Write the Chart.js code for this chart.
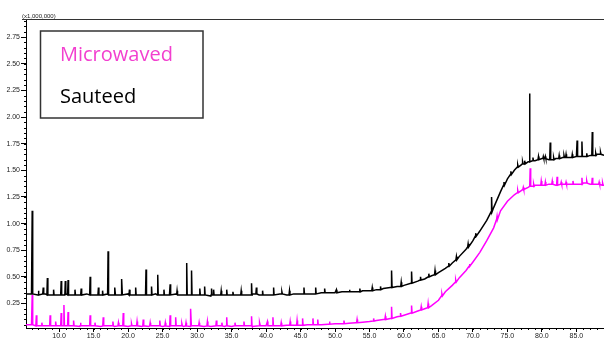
<!DOCTYPE html>
<html>
<head>
<meta charset="utf-8">
<script src="https://cdn.jsdelivr.net/npm/chart.js@4/dist/chart.umd.min.js"></script>
<style>
  html, body { margin: 0; padding: 0; background: #fff; }
</style>
</head>
<body>
<canvas id="chromChart" width="604" height="338"></canvas>
<script>
// Retention time grid (min) for the baseline readings
const times = [5, 6, 7, 8, 9, 10, 11, 12, 13, 14, 15, 16, 17, 18, 19, 20, 21, 22, 23, 24,
  25, 26, 27, 28, 29, 30, 31, 32, 33, 34, 35, 36, 37, 38, 39, 40, 41, 42, 43, 44,
  45, 46, 47, 48, 49, 50, 51, 52, 53, 54, 55, 56, 57, 58, 59, 60, 61, 62, 63, 64,
  65, 66, 67, 68, 69, 70, 71, 72, 73, 74, 75, 76, 77, 78, 79, 80, 81, 82, 83, 84,
  85, 86, 87, 88, 89];

// Baseline intensity (x1,000,000)
const sauteedBase = [0.34, 0.34, 0.33, 0.34, 0.33, 0.33, 0.34, 0.33, 0.33, 0.34, 0.33, 0.33, 0.34, 0.33, 0.33, 0.34, 0.33, 0.33, 0.33, 0.34,
  0.33, 0.33, 0.34, 0.33, 0.33, 0.33, 0.33, 0.32, 0.33, 0.33, 0.33, 0.33, 0.33, 0.34, 0.33, 0.33, 0.33, 0.34, 0.33, 0.34,
  0.34, 0.34, 0.34, 0.35, 0.35, 0.35, 0.36, 0.36, 0.36, 0.37, 0.37, 0.38, 0.39, 0.40, 0.41, 0.42, 0.44, 0.46, 0.48, 0.51,
  0.54, 0.58, 0.63, 0.69, 0.76, 0.84, 0.93, 1.03, 1.15, 1.30, 1.42, 1.50, 1.55, 1.58, 1.59, 1.61, 1.60, 1.61, 1.62, 1.62,
  1.63, 1.63, 1.64, 1.65, 1.64];

const microwavedBase = [0.05, 0.05, 0.04, 0.04, 0.04, 0.04, 0.04, 0.04, 0.035, 0.04, 0.04, 0.035, 0.04, 0.035, 0.04, 0.035, 0.04, 0.035, 0.035, 0.04,
  0.035, 0.035, 0.04, 0.035, 0.035, 0.04, 0.035, 0.035, 0.04, 0.035, 0.035, 0.04, 0.04, 0.035, 0.04, 0.04, 0.04, 0.04, 0.045, 0.045,
  0.045, 0.05, 0.05, 0.05, 0.055, 0.06, 0.06, 0.065, 0.07, 0.075, 0.08, 0.09, 0.10, 0.11, 0.125, 0.14, 0.16, 0.18, 0.20, 0.23,
  0.28, 0.36, 0.42, 0.49, 0.56, 0.64, 0.73, 0.84, 0.96, 1.12, 1.21, 1.27, 1.31, 1.34, 1.36, 1.36, 1.37, 1.36, 1.37, 1.37,
  1.37, 1.38, 1.37, 1.37, 1.36];

// Peaks: [time, local baseline, apex]
const sauteedPeaks = [
  [6.1, 0.34, 1.12], [7.0, 0.33, 0.37], [7.7, 0.34, 0.40], [8.3, 0.33, 0.49], [9.2, 0.33, 0.38],
  [10.3, 0.33, 0.46], [10.9, 0.33, 0.46], [11.3, 0.33, 0.47], [12.3, 0.33, 0.38], [13.2, 0.33, 0.39],
  [14.5, 0.33, 0.50], [15.7, 0.33, 0.40], [16.3, 0.33, 0.37], [17.1, 0.33, 0.74], [18.1, 0.33, 0.40],
  [19.1, 0.33, 0.48], [20.2, 0.33, 0.38], [21.1, 0.33, 0.40], [22.6, 0.33, 0.57], [23.4, 0.33, 0.41],
  [24.3, 0.33, 0.52], [25.2, 0.33, 0.38], [26.1, 0.33, 0.43], [27.1, 0.33, 0.37], [28.5, 0.33, 0.63],
  [29.2, 0.33, 0.56], [30.4, 0.33, 0.39], [31.1, 0.33, 0.41], [32.1, 0.33, 0.39], [32.4, 0.33, 0.38],
  [33.5, 0.33, 0.37], [34.3, 0.33, 0.38], [35.2, 0.33, 0.36], [36.4, 0.33, 0.37], [37.9, 0.33, 0.44],
  [38.6, 0.34, 0.40], [39.5, 0.33, 0.37], [41.1, 0.33, 0.40], [42.3, 0.34, 0.36], [43.4, 0.33, 0.37],
  [45.5, 0.34, 0.40], [47.2, 0.34, 0.40], [48.5, 0.35, 0.39], [50.2, 0.35, 0.38], [52.1, 0.36, 0.38],
  [53.6, 0.36, 0.39], [55.4, 0.37, 0.40], [56.6, 0.38, 0.41], [58.2, 0.40, 0.56], [59.6, 0.41, 0.45],
  [61.1, 0.44, 0.55], [62.4, 0.47, 0.50], [63.6, 0.50, 0.53], [64.5, 0.52, 0.56], [66.5, 0.60, 0.63],
  [67.6, 0.66, 0.69], [69.3, 0.78, 0.81], [70.4, 0.88, 0.91], [72.7, 1.11, 1.25], [74.5, 1.36, 1.39],
  [75.5, 1.46, 1.49], [76.5, 1.53, 1.55], [77.2, 1.56, 1.58], [77.5, 1.56, 1.59], [78.2, 1.58, 2.22],
  [78.7, 1.59, 1.62], [79.5, 1.60, 1.63], [80.2, 1.61, 1.63], [80.5, 1.61, 1.63], [81.2, 1.60, 1.76],
  [81.7, 1.60, 1.62], [82.5, 1.61, 1.64], [83.2, 1.62, 1.64], [83.5, 1.62, 1.65], [84.4, 1.62, 1.65],
  [85.1, 1.63, 1.78], [85.8, 1.63, 1.77], [86.5, 1.63, 1.66], [87.3, 1.64, 1.86], [87.8, 1.64, 1.66],
  [88.5, 1.65, 1.67]
];

const microwavedPeaks = [
  [6.1, 0.05, 0.33], [6.7, 0.04, 0.14], [7.5, 0.04, 0.07], [8.7, 0.04, 0.14], [9.5, 0.04, 0.08],
  [10.3, 0.04, 0.16], [10.7, 0.04, 0.235], [11.3, 0.04, 0.17], [12.1, 0.04, 0.09], [13.1, 0.04, 0.07],
  [14.5, 0.04, 0.14], [15.2, 0.04, 0.07], [16.4, 0.04, 0.12], [17.8, 0.04, 0.08], [18.6, 0.04, 0.07],
  [19.3, 0.04, 0.16], [20.5, 0.04, 0.06], [21.3, 0.04, 0.08], [22.2, 0.04, 0.10], [23.2, 0.04, 0.07],
  [24.6, 0.04, 0.09], [25.4, 0.04, 0.07], [26.1, 0.04, 0.14], [26.9, 0.04, 0.12], [27.8, 0.04, 0.06],
  [28.4, 0.04, 0.07], [29.1, 0.04, 0.20], [30.3, 0.04, 0.07], [31.5, 0.04, 0.08], [32.8, 0.04, 0.09],
  [33.6, 0.04, 0.07], [34.3, 0.04, 0.12], [35.5, 0.04, 0.07], [36.8, 0.04, 0.08], [37.9, 0.04, 0.13],
  [39.1, 0.04, 0.07], [40.2, 0.04, 0.08], [41.0, 0.04, 0.12], [42.2, 0.04, 0.07], [43.5, 0.045, 0.08],
  [44.5, 0.045, 0.09], [45.3, 0.045, 0.11], [46.8, 0.05, 0.11], [47.5, 0.05, 0.10], [49.2, 0.055, 0.08],
  [51.3, 0.06, 0.09], [53.2, 0.07, 0.10], [55.6, 0.085, 0.11], [57.3, 0.10, 0.13], [58.2, 0.11, 0.22],
  [59.5, 0.13, 0.16], [61.1, 0.16, 0.23], [62.5, 0.19, 0.22], [63.5, 0.21, 0.25], [65.5, 0.32, 0.34],
  [67.5, 0.45, 0.47], [69.5, 0.60, 0.62], [73.5, 1.04, 1.07], [76.5, 1.29, 1.31], [77.3, 1.32, 1.34],
  [78.3, 1.35, 1.52], [78.8, 1.35, 1.37], [79.9, 1.36, 1.40], [80.5, 1.36, 1.39], [81.5, 1.37, 1.40],
  [82.2, 1.36, 1.44], [82.8, 1.37, 1.39], [83.5, 1.37, 1.39], [84.5, 1.37, 1.40], [85.8, 1.37, 1.43],
  [86.5, 1.38, 1.40], [87.3, 1.37, 1.43], [88.3, 1.37, 1.39], [88.8, 1.36, 1.38]
];

const xTickValues = [10, 15, 20, 25, 30, 35, 40, 45, 50, 55, 60, 65, 70, 75, 80, 85];
const yTickValues = [0.25, 0.5, 0.75, 1.0, 1.25, 1.5, 1.75, 2.0, 2.25, 2.5, 2.75];

// Merge baseline readings and peaks into one sorted trace
function buildTrace(base, peaks) {
  const pts = times.map((t, i) => ({ x: t, y: base[i] }));
  peaks.forEach(([t, b, top]) => {
    pts.push({ x: t - 0.07, y: b }, { x: t, y: top }, { x: t + 0.07, y: b });
  });
  return pts.sort((a, b) => a.x - b.x);
}

const tickFont = { family: 'Liberation Sans', size: 7 };

// Minor ticks, top frame, unit label and legend box
const decor = {
  id: 'decor',
  afterDraw(chart) {
    const { ctx, chartArea, scales } = chart;
    const x = scales.x, y = scales.y;
    ctx.save();
    ctx.strokeStyle = '#000';
    ctx.lineWidth = 1;
    ctx.beginPath();
    for (let t = Math.ceil(x.min); t <= x.max; t++) {
      const px = Math.round(x.getPixelForValue(t)) + 0.5;
      ctx.moveTo(px, chartArea.bottom);
      ctx.lineTo(px, chartArea.bottom + 2);
    }
    for (let v = 0.05; v <= y.max; v += 0.05) {
      const py = Math.round(y.getPixelForValue(v)) + 0.5;
      ctx.moveTo(chartArea.left, py);
      ctx.lineTo(chartArea.left - 2, py);
    }
    ctx.stroke();

    ctx.strokeStyle = '#333';
    ctx.beginPath();
    ctx.moveTo(22, chartArea.top + 0.5);
    ctx.lineTo(chartArea.right, chartArea.top + 0.5);
    ctx.stroke();

    ctx.fillStyle = '#222';
    ctx.font = '6px "Liberation Sans"';
    ctx.textBaseline = 'alphabetic';
    ctx.fillText('(x1,000,000)', 22, chartArea.top - 1);

    // legend
    ctx.strokeStyle = '#333';
    ctx.lineWidth = 1.5;
    ctx.strokeRect(40.5, 31, 162.5, 87);
    ctx.font = '20px "Open Sans"';
    const items = [
      { text: chart.data.datasets[0].label, color: '#f23fcf', y: 61 },
      { text: chart.data.datasets[1].label, color: '#000', y: 103 }
    ];
    items.forEach(it => {
      ctx.fillStyle = it.color;
      ctx.fillText(it.text, 60, it.y);
    });
    ctx.restore();
  }
};

new Chart(document.getElementById('chromChart').getContext('2d'), {
  type: 'line',
  data: {
    datasets: [
      {
        label: 'Microwaved',
        data: buildTrace(microwavedBase, microwavedPeaks),
        borderColor: '#ff00ff',
        borderWidth: 1.5,
        pointRadius: 0,
        tension: 0
      },
      {
        label: 'Sauteed',
        data: buildTrace(sauteedBase, sauteedPeaks),
        borderColor: '#000',
        borderWidth: 1.5,
        pointRadius: 0,
        tension: 0
      }
    ]
  },
  options: {
    responsive: false,
    animation: false,
    devicePixelRatio: 1,
    layout: { padding: { top: 19, left: 0, right: 0, bottom: 0 } },
    plugins: {
      legend: { display: false },
      tooltip: { enabled: false }
    },
    scales: {
      x: {
        type: 'linear',
        min: 5.2,
        max: 89,
        grid: { drawOnChartArea: false, tickLength: 4, color: '#000' },
        border: { color: '#000', width: 1 },
        ticks: {
          font: tickFont,
          color: '#222',
          padding: 0,
          maxRotation: 0,
          autoSkip: false,
          callback: v => Number(v).toFixed(1)
        },
        afterBuildTicks: s => { s.ticks = xTickValues.map(v => ({ value: v })); },
        afterFit: s => { s.height = 10; }
      },
      y: {
        min: 0.02,
        max: 2.92,
        grid: { drawOnChartArea: false, tickLength: 5, color: '#000' },
        border: { color: '#000', width: 1 },
        ticks: {
          font: tickFont,
          color: '#222',
          padding: 1,
          autoSkip: false,
          callback: v => Number(v).toFixed(2)
        },
        afterBuildTicks: s => { s.ticks = yTickValues.map(v => ({ value: v })); },
        afterFit: s => { s.width = 26; }
      }
    }
  },
  plugins: [decor]
});
</script>
</body>
</html>
